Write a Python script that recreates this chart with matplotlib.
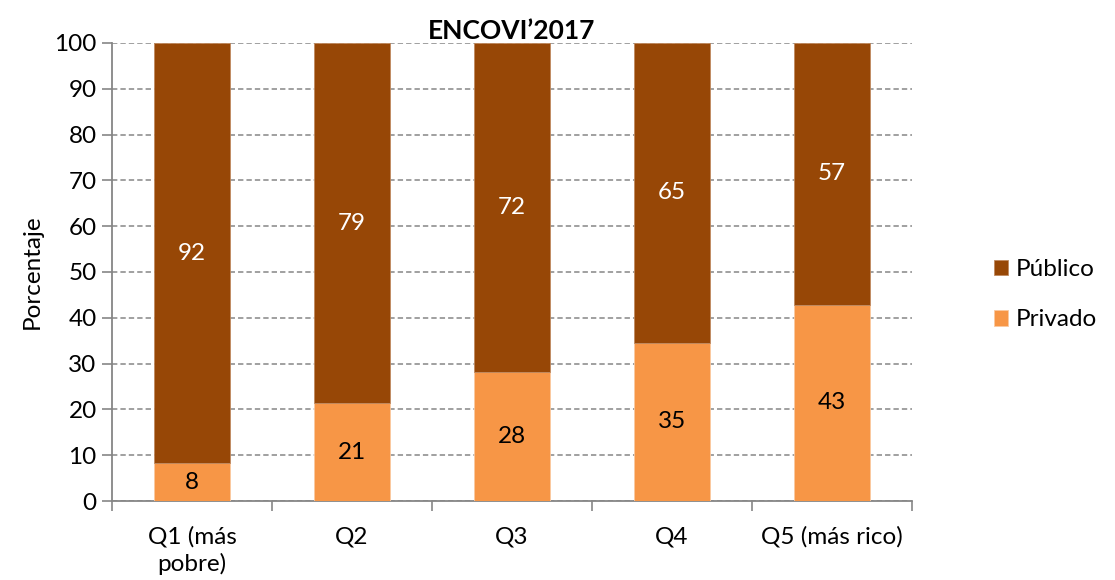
import numpy as np
import matplotlib.pyplot as plt

categorias = ["Q1 (más\npobre)", "Q2", "Q3", "Q4", "Q5 (más rico)"]
privado = [8.2, 21.3, 28.1, 34.6, 42.8]
publico = [91.8, 78.7, 71.9, 65.4, 57.2]

col_pub = "#974706"
col_priv = "#F79646"
gris = "#868686"

plt.rcParams['font.family'] = ['Lato', 'DejaVu Sans']

fig = plt.figure(figsize=(11.15, 5.8), dpi=100)
ax = fig.add_axes([0.1004, 0.1362, 0.7175, 0.7897])

x = np.arange(len(categorias))
w = 0.475
b1 = ax.bar(x, privado, w, color=col_priv, edgecolor="#fbc9a0", linewidth=0.6, label="Privado", zorder=3)
b2 = ax.bar(x, publico, w, bottom=privado, color=col_pub, edgecolor="#c08a60", linewidth=0.6, label="Público", zorder=3)

ax.bar_label(b1, labels=[f"{v:.0f}" for v in privado], label_type="center", fontsize=17.5, color="black")
ax.bar_label(b2, labels=[f"{v:.0f}" for v in publico], label_type="center", fontsize=17.5, color="white")

ax.set_xlim(-0.5, len(categorias) - 0.5)
ax.set_ylim(0, 100)
ax.set_yticks(np.arange(0, 101, 10))
ax.yaxis.grid(True, linestyle=(0, (3.5, 2)), color=gris, linewidth=1.1, zorder=0)
ax.set_axisbelow(True)

ax.set_xticks(x)
ax.set_xticklabels(categorias, fontsize=17.5, linespacing=1.3)
ax.set_xticks(np.arange(-0.5, len(categorias), 1), minor=True)
ax.tick_params(axis="x", which="major", length=0, pad=18)
ax.tick_params(axis="x", which="minor", length=7, width=1.2, color=gris)
ax.tick_params(axis="y", length=7, width=1.2, color=gris, labelsize=17.5, pad=4)

for s in ["top", "right"]:
    ax.spines[s].set_visible(False)
for s in ["left", "bottom"]:
    ax.spines[s].set_color(gris)
    ax.spines[s].set_linewidth(1.3)

ax.set_ylabel("Porcentaje", fontsize=17.5, labelpad=8)
ax.set_title("ENCOVI’2017", fontsize=19, fontweight="bold", pad=2)

h, l = ax.get_legend_handles_labels()
ax.legend(h[::-1], l[::-1], loc="center left", bbox_to_anchor=(1.075, 0.45), frameon=False,
          fontsize=17.5, handlelength=0.6, handleheight=0.6, handletextpad=0.3, labelspacing=1.2)

fig.savefig("out.png", dpi=100)
